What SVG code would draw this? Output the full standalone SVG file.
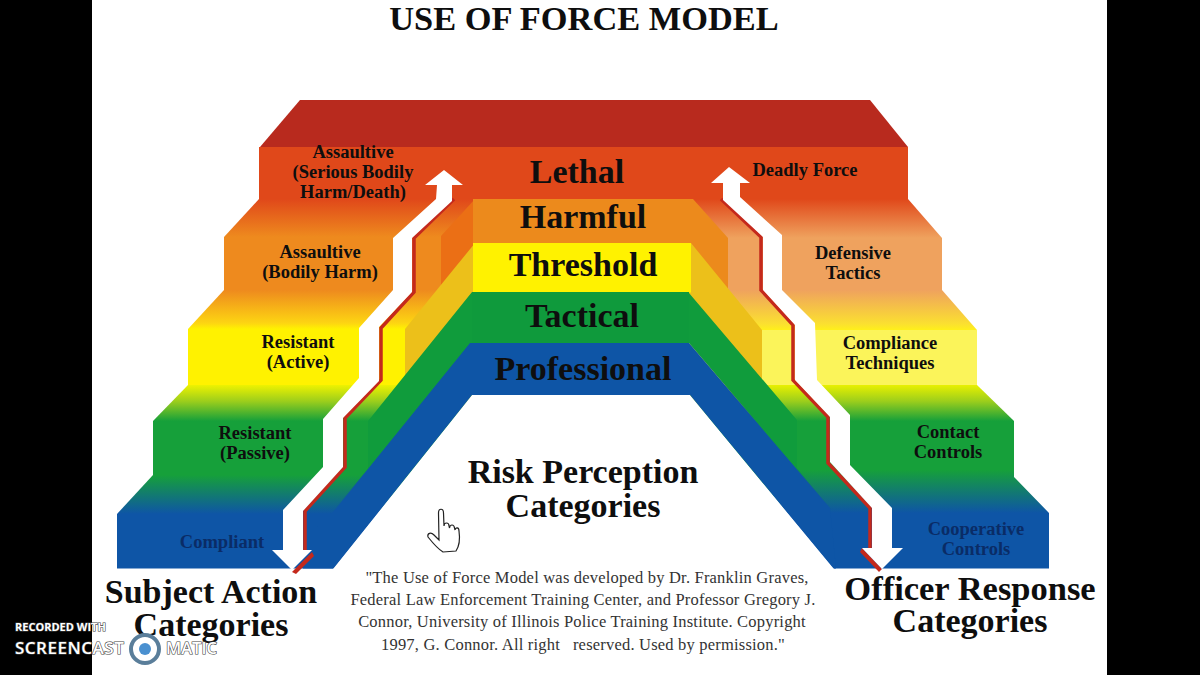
<svg xmlns="http://www.w3.org/2000/svg" width="1200" height="675" viewBox="0 0 1200 675">
<style>
text{font-family:"Liberation Serif","Times New Roman",serif;font-weight:bold;text-anchor:middle;fill:#0e0e0e;white-space:pre}
.sm{font-size:18.5px}
.lg{font-size:34px}
.bl{fill:#0a2c66}
.q{font-size:16.500px;font-weight:normal;fill:#333;letter-spacing:.2px}
.wm{font-family:"Open Sans","Liberation Sans",sans-serif;fill:#fff;text-anchor:start;stroke:#444;stroke-width:1.2px;paint-order:stroke}
.red{fill:none;stroke:#c4291c;stroke-width:3.5}
.edge{fill:#fff}
</style>
<defs>
<linearGradient id="gL1" gradientUnits="userSpaceOnUse" x1="0" y1="199" x2="0" y2="237"><stop offset="0" stop-color="#e0481a"/><stop offset="1" stop-color="#ee8a1e"/></linearGradient>
<linearGradient id="gL2" gradientUnits="userSpaceOnUse" x1="0" y1="290" x2="0" y2="329"><stop offset="0" stop-color="#ee8a1e"/><stop offset=".85" stop-color="#fdd512"/><stop offset="1" stop-color="#fff200"/></linearGradient>
<linearGradient id="gL3" gradientUnits="userSpaceOnUse" x1="0" y1="385" x2="0" y2="421"><stop offset="0" stop-color="#eef200"/><stop offset=".45" stop-color="#9cce1c"/><stop offset="1" stop-color="#16a03a"/></linearGradient>
<linearGradient id="gL4" gradientUnits="userSpaceOnUse" x1="0" y1="475" x2="0" y2="514"><stop offset="0" stop-color="#16a03a"/><stop offset="1" stop-color="#0e55a6"/></linearGradient>
<linearGradient id="gR1" gradientUnits="userSpaceOnUse" x1="0" y1="199" x2="0" y2="238"><stop offset="0" stop-color="#e0481a"/><stop offset="1" stop-color="#efa25e"/></linearGradient>
<linearGradient id="gR2" gradientUnits="userSpaceOnUse" x1="0" y1="290" x2="0" y2="330"><stop offset="0" stop-color="#efa25e"/><stop offset=".85" stop-color="#fbe030"/><stop offset="1" stop-color="#fff01a"/></linearGradient>
<linearGradient id="gR3" gradientUnits="userSpaceOnUse" x1="0" y1="385" x2="0" y2="421"><stop offset="0" stop-color="#e8f000"/><stop offset=".45" stop-color="#9cce1c"/><stop offset="1" stop-color="#16a03a"/></linearGradient>
<linearGradient id="gR4" gradientUnits="userSpaceOnUse" x1="0" y1="470" x2="0" y2="513"><stop offset="0" stop-color="#16a03a"/><stop offset="1" stop-color="#0e55a6"/></linearGradient>
<linearGradient id="gBand" gradientUnits="userSpaceOnUse" x1="0" y1="465" x2="0" y2="508"><stop offset="0" stop-color="#109c3c"/><stop offset="1" stop-color="#0e55a6"/></linearGradient>
</defs>
<rect width="1200" height="675" fill="#000"/>
<rect x="92" width="1015" height="675" fill="#fff"/>

<g id="stairs">
<polygon points="300,100 870,100 908,147 260,147" fill="#b82a1e"/>
<rect x="259" y="147" width="649" height="52" fill="#e0481a"/>
<polygon points="259,199 601,199 601,237 224,237" fill="url(#gL1)"/>
<rect x="224" y="237" width="377" height="53" fill="#ee8a1e"/>
<polygon points="224,290 601,290 601,329 188,329" fill="url(#gL2)"/>
<rect x="188" y="329" width="413" height="56" fill="#fff200"/>
<polygon points="188,385 601,385 601,421 153,421" fill="url(#gL3)"/>
<rect x="153" y="421" width="448" height="54" fill="#16a03a"/>
<polygon points="153,475 601,475 601,514 117,514" fill="url(#gL4)"/>
<rect x="117" y="514" width="484" height="54.500" fill="#0e55a6"/>
<polygon points="600,199 908,199 942,238 600,238" fill="url(#gR1)"/>
<rect x="600" y="238" width="342" height="52" fill="#efa25e"/>
<polygon points="600,290 942,290 977,330 600,330" fill="url(#gR2)"/>
<rect x="600" y="330" width="377" height="55" fill="#fbf45a"/>
<polygon points="600,385 977,385 1014,421 600,421" fill="url(#gR3)"/>
<rect x="600" y="421" width="414" height="49" fill="#16a03a"/>
<polygon points="600,470 1014,470 1014,477 1049,513 600,513" fill="url(#gR4)"/>
<rect x="600" y="513" width="449" height="55.500" fill="#0e55a6"/>
<polygon points="333,569 472,395 690,395 834,569" fill="#fff"/>
</g>

<g id="center-bands">
<polygon points="475,199 441,236 441,287 475,247" fill="#eb6f15"/>
<polygon points="690,199 693,199 728,238 728,290 690,245" fill="#ec8a1c"/>
<polygon points="475,243 405,329 405,400 475,300" fill="#ecc01a"/>
<polygon points="688,243 691,243 762,330 762,387 780,410 688,300" fill="#ecc01a"/>
<polygon points="475,292 472,292 368,421 368,470 333,510 475,343" fill="url(#gBand)"/>
<polygon points="685,293 689,293 797,420 797,468 830,508 689,343 685,343" fill="url(#gBand)"/>
<polygon points="475,343 470,343 333,512 303,540 303,568.500 333,568.500 472,395 475,395" fill="#0e55a6"/>
<polygon points="685,343 689,343 830,508 836,568.500 834,568.500 690,395 685,395" fill="#0e55a6"/>
<rect x="473" y="199" width="220" height="44" fill="#ec8a1c"/>
<rect x="473" y="243" width="218" height="49.500" fill="#fff200"/>
<rect x="472" y="292" width="217" height="51.500" fill="#0f9a3c"/>
<rect x="470" y="343" width="219" height="52" fill="#0e55a6"/>
</g>

<g id="connectors">
<polyline class="red" points="454,199 414,238 414,292 381,328 381,380 345,418 345,467 305,511 305,552"/>
<polygon points="312,552 292,572 296,574 314,556" fill="#c4291c"/>
<polygon class="edge" points="444,170 463,185 452,185 452,201 412,238 412,292 379,327 379,381 343,418 343,467 303,511 303,550 312,550 292,570 272,550 283,550 283,510 323,467 323,419 359,378 359,328 393,290 393,238 436,199 437,185 425,185"/>
<polyline class="red" points="721,199 761,237 761,290 793,325 793,380 828,417 828,463 870,508 870,548"/>
<polygon points="862,548 882,569 879,572 860,552" fill="#c4291c"/>
<polygon class="edge" points="729,167 750,183 740,183 740,197 782,235 782,290 815,323 817,380 850,415 850,465 892,508 892,548 903,548 882,569 862,548 872,548 872,508 830,462 830,417 795,380 795,325 763,290 763,237 723,200 723,183 711,183"/>
</g>

<text id="title" x="584" y="30" style="font-size:34.400px">USE OF FORCE MODEL</text>

<g id="subject-labels">
<g id="s-assaultive-serious"><text class="sm" x="353" y="158">Assaultive</text><text class="sm" x="353" y="178">(Serious Bodily</text><text class="sm" x="353" y="198">Harm/Death)</text></g>
<g id="s-assaultive-bodily"><text class="sm" x="320" y="258">Assaultive</text><text class="sm" x="320" y="278">(Bodily Harm)</text></g>
<g id="s-resistant-active"><text class="sm" x="298" y="348">Resistant</text><text class="sm" x="298" y="368">(Active)</text></g>
<g id="s-resistant-passive"><text class="sm" x="255" y="439">Resistant</text><text class="sm" x="255" y="459">(Passive)</text></g>
<g id="s-compliant"><text class="sm bl" x="222" y="548">Compliant</text></g>
</g>
<g id="risk-labels">
<text class="lg" x="577" y="183">Lethal</text>
<text class="lg" x="583" y="228">Harmful</text>
<text class="lg" x="583" y="276">Threshold</text>
<text class="lg" x="582" y="327">Tactical</text>
<text class="lg" x="583" y="380">Professional</text>
</g>
<g id="officer-labels">
<g id="o-deadly"><text class="sm" x="805" y="176">Deadly Force</text></g>
<g id="o-defensive"><text class="sm" x="853" y="259">Defensive</text><text class="sm" x="853" y="279">Tactics</text></g>
<g id="o-compliance"><text class="sm" x="890" y="349">Compliance</text><text class="sm" x="890" y="369">Techniques</text></g>
<g id="o-contact"><text class="sm" x="948" y="438">Contact</text><text class="sm" x="948" y="458">Controls</text></g>
<g id="o-cooperative"><text class="sm bl" x="976" y="535">Cooperative</text><text class="sm bl" x="976" y="555">Controls</text></g>
</g>
<g id="headings">
<text class="lg" x="583" y="483">Risk Perception</text>
<text class="lg" x="583" y="517">Categories</text>
<text class="lg" x="211" y="603">Subject Action</text>
<text class="lg" x="211" y="636">Categories</text>
<text class="lg" x="970" y="600" style="font-size:34.500px">Officer Response</text>
<text class="lg" x="970" y="632">Categories</text>
</g>
<g id="quote">
<text class="q" x="587" y="583">"The Use of Force Model was developed by Dr. Franklin Graves,</text>
<text class="q" x="583" y="605">Federal Law Enforcement Training Center, and Professor Gregory J.</text>
<text class="q" x="582" y="627">Connor, University of Illinois Police Training Institute. Copyright</text>
<text class="q" x="583" y="650">1997, G. Connor. All right   reserved. Used by permission."</text>
</g>

<g id="cursor">
<path d="M438.500,513C438.500,508 443.500,508 443.500,513L444,526C444,522 449,522 449,526L449.500,528C450,524 454,524 454.500,528L455,530C455.500,527 459,527 459,531C460,538 460,545 456,551L443,552C438,549 432,542 428,537C427,533 431,532 434,535L439,540Z" fill="#fff" stroke="#222" stroke-width="1.200"/>
</g>
<g id="watermark">
<text class="wm" x="15" y="631" style="font-size:11px;font-weight:700">RECORDED WITH</text>
<text class="wm" x="15" y="654" style="font-size:17px;font-weight:600;letter-spacing:.5px">SCREENCAST</text>
<circle cx="145" cy="649" r="14" fill="#fff" stroke="#5a7e9a" stroke-width="4"/>
<circle cx="145" cy="649" r="6" fill="#4a90d0"/>
<text class="wm" x="166" y="654" style="font-size:16.500px;font-weight:600">MATIC</text>
</g>
</svg>
